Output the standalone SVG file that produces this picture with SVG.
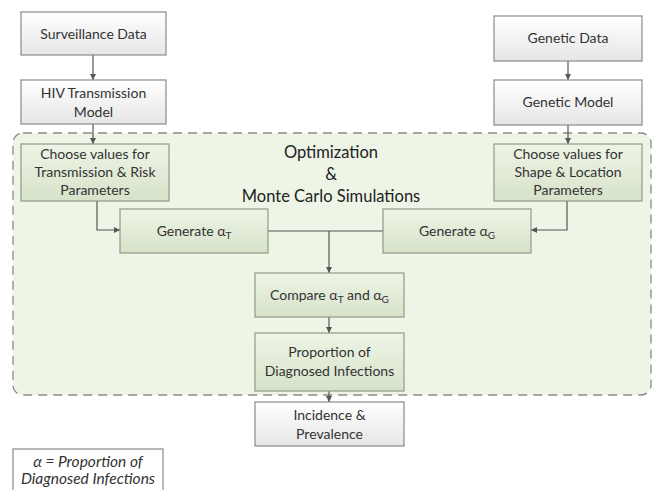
<svg xmlns="http://www.w3.org/2000/svg" width="655" height="490" viewBox="0 0 655 490">
  <defs>
    <linearGradient id="gWhite" x1="0" y1="0" x2="0" y2="1">
      <stop offset="0" stop-color="#ffffff"/>
      <stop offset="1" stop-color="#e6e6e6"/>
    </linearGradient>
    <linearGradient id="gGreen" x1="0" y1="0" x2="0" y2="1">
      <stop offset="0" stop-color="#eef4e6"/>
      <stop offset="1" stop-color="#d6e2c9"/>
    </linearGradient>
    <marker id="arr" viewBox="0 0 10 10" refX="10" refY="5" markerWidth="6" markerHeight="6" orient="auto" markerUnits="userSpaceOnUse">
      <path d="M0,0 L10,5 L0,10 Z" fill="#555"/>
    </marker>
    <style>
      text { font-family: Lato, "Liberation Sans", sans-serif; font-size: 14px; fill: #333; text-anchor: middle; }
      .plain { fill: url(#gWhite); stroke: #8a8a8a; stroke-width: 1.2; }
      .green { fill: url(#gGreen); stroke: #8f9a86; stroke-width: 1.2; }
      .title { font-size: 16.5px; fill: #222; }
      .leg { font-style: italic; font-size: 15.5px; }
      .conn { fill: none; stroke: #555; stroke-width: 1.2; }
    </style>
  </defs>

  <rect width="655" height="490" fill="#ffffff"/>

  <!-- dashed optimization region -->
  <g id="region">
    <rect x="13" y="133" width="638" height="262" rx="10" ry="10" fill="#eff5e6" stroke="#8a8a8a" stroke-width="1.3" stroke-dasharray="9,6"/>
    <text class="title" x="331" y="158">Optimization</text>
    <text class="title" x="331" y="180">&amp;</text>
    <text class="title" x="331" y="202">Monte Carlo Simulations</text>
  </g>

  <!-- connectors -->
  <g id="connectors">
    <path class="conn" d="M93,55 V80" marker-end="url(#arr)"/>
    <path class="conn" d="M93,124 V144" marker-end="url(#arr)"/>
    <path class="conn" d="M568,61 V80" marker-end="url(#arr)"/>
    <path class="conn" d="M568,125 V144" marker-end="url(#arr)"/>
    <path class="conn" d="M97,201 V230 H120" marker-end="url(#arr)"/>
    <path class="conn" d="M567,201 V230 H531" marker-end="url(#arr)"/>
    <path class="conn" d="M268,231 H383"/>
    <path class="conn" d="M329,231 V273" marker-end="url(#arr)"/>
    <path class="conn" d="M329,317 V333" marker-end="url(#arr)"/>
    <path class="conn" d="M329,391 V402" marker-end="url(#arr)"/>
  </g>

  <g id="surveillance">
    <rect class="plain" x="21" y="12" width="145" height="43"/>
    <text x="93.5" y="38.5">Surveillance Data</text>
  </g>
  <g id="hivModel">
    <rect class="plain" x="21" y="80" width="145" height="44"/>
    <text x="93.5" y="98">HIV Transmission</text>
    <text x="93.5" y="117">Model</text>
  </g>
  <g id="geneticData">
    <rect class="plain" x="494" y="16" width="148" height="45"/>
    <text x="568" y="43">Genetic Data</text>
  </g>
  <g id="geneticModel">
    <rect class="plain" x="494" y="80" width="148" height="45"/>
    <text x="568" y="107">Genetic Model</text>
  </g>
  <g id="chooseTransmission">
    <rect class="green" x="21" y="144" width="148" height="57"/>
    <text x="95" y="159">Choose values for</text>
    <text x="95" y="177">Transmission &amp; Risk</text>
    <text x="95" y="195">Parameters</text>
  </g>
  <g id="chooseShape">
    <rect class="green" x="494" y="144" width="148" height="57"/>
    <text x="568" y="159">Choose values for</text>
    <text x="568" y="177">Shape &amp; Location</text>
    <text x="568" y="195">Parameters</text>
  </g>
  <g id="generateT">
    <rect class="green" x="120" y="209" width="148" height="44"/>
    <text x="194" y="236">Generate α<tspan font-size="10" dy="3">T</tspan></text>
  </g>
  <g id="generateG">
    <rect class="green" x="383" y="209" width="148" height="44"/>
    <text x="457" y="236">Generate α<tspan font-size="10" dy="3">G</tspan></text>
  </g>
  <g id="compare">
    <rect class="green" x="255" y="273" width="149" height="44"/>
    <text x="329.5" y="300">Compare α<tspan font-size="10" dy="3">T</tspan><tspan dy="-3"> and α</tspan><tspan font-size="10" dy="3">G</tspan></text>
  </g>
  <g id="proportion">
    <rect class="green" x="255" y="333" width="149" height="58"/>
    <text x="329.5" y="357">Proportion of</text>
    <text x="329.5" y="376">Diagnosed Infections</text>
  </g>
  <g id="incidence">
    <rect class="plain" x="255" y="402" width="149" height="44"/>
    <text x="329.5" y="420">Incidence &amp;</text>
    <text x="329.5" y="439">Prevalence</text>
  </g>
  <g id="legend">
    <rect x="13" y="449" width="150" height="48" fill="#ffffff" stroke="#8a8a8a" stroke-width="1.2"/>
    <text class="leg" x="88" y="467">α = Proportion of</text>
    <text class="leg" x="88" y="484">Diagnosed Infections</text>
  </g>
</svg>
